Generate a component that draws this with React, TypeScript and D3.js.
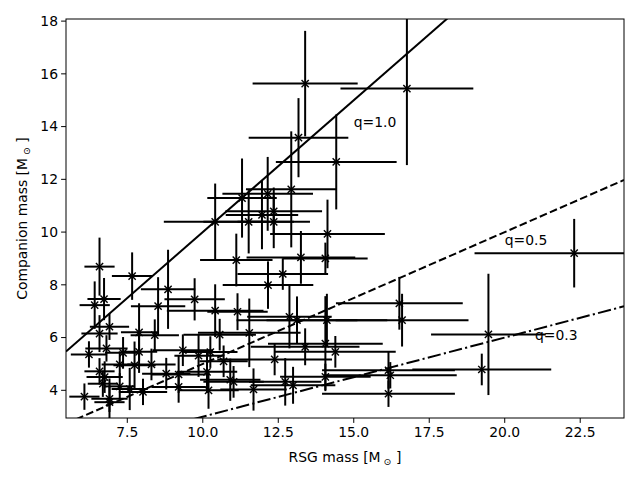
import React from 'react';
import * as d3 from 'd3';

// RSG mass, companion mass, and symmetric errors
const rsgMass = [
  13.39, 16.76, 13.17, 14.42, 12.93, 11.3, 12.15, 10.41, 11.52, 11.96,
  12.35, 12.35, 14.13, 13.25, 11.11, 14.06, 12.65, 12.16, 6.58, 7.66,
  6.73, 6.42, 8.85, 9.73, 8.52, 10.41, 11.15, 12.87, 13.12, 16.51,
  16.6, 14.11, 6.91, 6.58, 7.89, 8.41, 10.56, 11.54, 13.39, 14.06,
  14.39, 12.38, 6.81, 6.23, 7.36, 7.89, 9.34, 9.86, 10.25, 10.69,
  8.3, 7.25, 6.58, 7.74, 8.79, 9.2, 6.75, 6.69, 7.58, 7.25,
  8.02, 6.08, 6.91, 6.91, 10.14, 10.91, 9.2, 10.19, 11.68, 12.73,
  12.99, 14.06, 16.15, 16.21, 16.15, 22.3, 19.46, 19.24, 11.02,
];
const companionMass = [
  15.63, 15.44, 13.58, 12.66, 11.62, 11.29, 11.45, 10.39, 10.39, 10.65,
  10.79, 10.39, 9.93, 9.04, 8.94, 9.0, 8.41, 7.99, 8.69, 8.33,
  7.46, 7.23, 7.83, 7.45, 7.19, 7.02, 6.98, 6.79, 6.66, 7.3,
  6.66, 6.66, 6.41, 6.15, 6.2, 6.09, 6.11, 6.18, 5.65, 5.77,
  5.46, 5.17, 5.59, 5.36, 5.42, 5.46, 5.52, 5.31, 5.45, 5.1,
  4.98, 4.98, 4.72, 4.95, 4.63, 4.6, 4.5, 4.25, 4.05, 4.15,
  3.94, 3.76, 3.68, 3.55, 4.7, 4.4, 4.13, 4.0, 4.03, 4.32,
  4.19, 4.51, 4.76, 4.57, 3.87, 9.2, 6.12, 4.79, 4.32,
];
const rsgErr = [
  1.74, 2.2, 1.65, 2.0, 1.5, 1.15, 1.5, 1.7, 1.5, 1.2,
  1.6, 1.2, 1.9, 1.8, 1.2, 1.4, 1.5, 1.5, 0.5, 0.67,
  0.55, 0.5, 0.9, 1.0, 0.9, 1.6, 1.0, 1.4, 2.0, 2.1,
  2.2, 2.0, 0.65, 0.6, 0.6, 0.8, 1.2, 1.7, 1.8, 1.9,
  2.0, 1.9, 0.7, 0.6, 0.6, 0.6, 1.0, 0.8, 0.9, 0.8,
  0.8, 0.6, 0.5, 0.7, 0.8, 0.9, 0.6, 0.5, 0.6, 0.5,
  0.8, 0.5, 0.6, 0.5, 1.0, 1.0, 0.9, 1.0, 1.1, 1.2,
  1.4, 1.5, 2.2, 2.2, 2.2, 3.3, 1.9, 2.3, 1.0,
];
const companionErr = [
  2.0, 2.9, 1.5, 1.8, 2.2, 1.5, 1.4, 1.45, 1.2, 1.3,
  0.9, 1.0, 1.3, 1.0, 1.0, 0.6, 0.6, 0.9, 1.1, 0.9,
  0.8, 0.9, 1.5, 0.8, 1.1, 1.0, 0.7, 1.2, 0.9, 1.0,
  1.0, 1.0, 0.5, 0.7, 1.1, 0.6, 0.6, 1.3, 0.7, 1.8,
  0.6, 0.6, 0.5, 0.5, 0.6, 0.8, 0.6, 0.8, 0.6, 0.6,
  0.6, 0.5, 0.5, 0.9, 0.6, 0.7, 0.6, 0.5, 0.8, 0.5,
  0.5, 0.5, 0.5, 0.9, 0.8, 0.8, 0.6, 0.7, 0.8, 0.9,
  0.7, 0.5, 0.7, 0.5, 0.5, 1.3, 2.3, 0.6, 0.6,
];

// mass-ratio reference lines
const qValues = [1.0, 0.5, 0.3];
const qDash = ['', '7.7,3.3', '13.3,3.3,2.1,3.3'];
const qLabelX = [15, 20, 21];
const qLabelY = [14, 9.5, 5.9];

const xTicks = [7.5, 10, 12.5, 15, 17.5, 20, 22.5];
const yTicks = [4, 6, 8, 10, 12, 14, 16, 18];

const W = 640;
const H = 480;
const margin = { top: 19, right: 16, bottom: 62, left: 66 };
const font = 'DejaVu Sans, sans-serif';

export default function App() {
  const x = d3.scaleLinear().domain([5.47, 23.95]).range([margin.left, W - margin.right]);
  const y = d3.scaleLinear().domain([2.95, 18.08]).range([H - margin.bottom, margin.top]);
  const [x0, x1] = x.range();
  const [y0, y1] = y.range();
  const ms = 3.6;

  return (
    <svg width={W} height={H} style={{ position: 'absolute', left: 0, top: 0, background: '#fff' }} fontFamily={font}>
      <defs>
        <clipPath id="plot">
          <rect x={x0} y={y1} width={x1 - x0} height={y0 - y1} />
        </clipPath>
      </defs>
      <g clipPath="url(#plot)">
        {qValues.map((q, i) => (
          <line
            key={q}
            x1={x(x.domain()[0])}
            y1={y(q * x.domain()[0])}
            x2={x(x.domain()[1])}
            y2={y(q * x.domain()[1])}
            stroke="#000"
            strokeWidth={2}
            strokeDasharray={qDash[i] || undefined}
          />
        ))}
        {rsgMass.map((m, i) => {
          const cx = x(m);
          const cy = y(companionMass[i]);
          return (
            <g key={i} stroke="#000" strokeWidth={2}>
              <line x1={x(m - rsgErr[i])} x2={x(m + rsgErr[i])} y1={cy} y2={cy} />
              <line x1={cx} x2={cx} y1={y(companionMass[i] - companionErr[i])} y2={y(companionMass[i] + companionErr[i])} />
              <line x1={cx - ms} x2={cx + ms} y1={cy - ms} y2={cy + ms} strokeWidth={1.4} />
              <line x1={cx - ms} x2={cx + ms} y1={cy + ms} y2={cy - ms} strokeWidth={1.4} />
            </g>
          );
        })}
      </g>
      {qValues.map((q, i) => (
        <text key={q} x={x(qLabelX[i])} y={y(qLabelY[i])} fontSize={13.9} fill="#000">
          q={q.toFixed(1)}
        </text>
      ))}
      <rect x={x0} y={y1} width={x1 - x0} height={y0 - y1} fill="none" stroke="#000" strokeWidth={1} />
      {xTicks.map((t) => (
        <g key={t}>
          <line x1={x(t)} x2={x(t)} y1={y0} y2={y0 + 4.9} stroke="#000" strokeWidth={1} />
          <text x={x(t)} y={y0 + 19} textAnchor="middle" fontSize={13.9} fill="#000">
            {t.toFixed(1)}
          </text>
        </g>
      ))}
      {yTicks.map((t) => (
        <g key={t}>
          <line x1={x0 - 4.9} x2={x0} y1={y(t)} y2={y(t)} stroke="#000" strokeWidth={1} />
          <text x={x0 - 8} y={y(t)} dy="0.35em" textAnchor="end" fontSize={13.9} fill="#000">
            {t}
          </text>
        </g>
      ))}
      <text x={(x0 + x1) / 2} y={H - 18} textAnchor="middle" fontSize={13.9} fill="#000">
        RSG mass [M
        <tspan fontSize={9.5} dy={3}> ⊙</tspan>
        <tspan dy={-3}> ]</tspan>
      </text>
      <text
        transform={`translate(27,${(y0 + y1) / 2}) rotate(-90)`}
        textAnchor="middle"
        fontSize={13.9}
        fill="#000"
      >
        Companion mass [M
        <tspan fontSize={9.5} dy={3}> ⊙</tspan>
        <tspan dy={-3}> ]</tspan>
      </text>
    </svg>
  );
}
